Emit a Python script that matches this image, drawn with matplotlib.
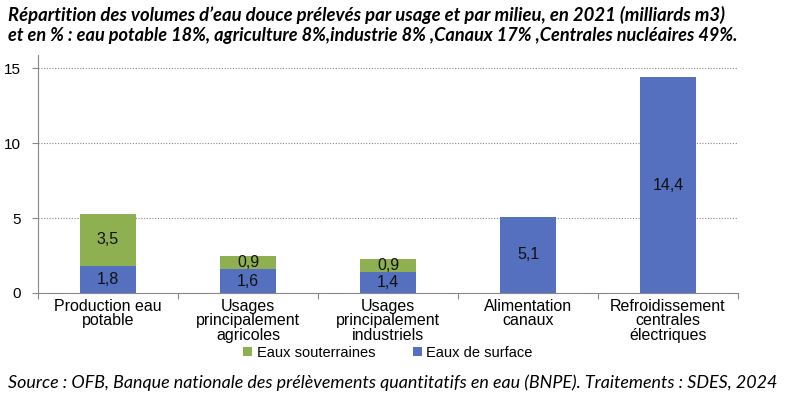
import matplotlib
matplotlib.use("Agg")
import matplotlib.pyplot as plt
import numpy as np
from matplotlib.ticker import FixedLocator, NullFormatter

categories = ["Production eau\npotable", "Usages\nprincipalement\nagricoles",
              "Usages\nprincipalement\nindustriels", "Alimentation\ncanaux",
              "Refroidissement\ncentrales\nélectriques"]
surface = [1.8, 1.6, 1.4, 5.1, 14.4]
souterraines = [3.5, 0.9, 0.9, 0.0, 0.0]
yticks = [0, 5, 10, 15]

green = "#8FB050"
blue = "#5470BF"
W, H = 795, 398

fig = plt.figure(figsize=(7.95, 3.98), dpi=100)
ax = fig.add_axes([38/W, 1-293/H, 700/W, (293-55)/H])

x = np.arange(len(categories))
ax.bar(x, surface, width=0.4, color=blue, label="Eaux de surface", zorder=3)
ax.bar(x, souterraines, width=0.4, bottom=surface, color=green, label="Eaux souterraines", zorder=3)

lab_font = dict(family="Liberation Sans", fontsize=11.5, color="#111111")
for i in range(len(categories)):
    ax.text(x[i], surface[i]/2, f"{surface[i]:.1f}".replace(".", ","), ha="center", va="center",
            zorder=4, **lab_font)
    if souterraines[i] > 0:
        ax.text(x[i], surface[i] + souterraines[i]/2, f"{souterraines[i]:.1f}".replace(".", ","),
                ha="center", va="center", zorder=4, **lab_font)

ax.set_xlim(-0.5, len(categories)-0.5)
ax.set_ylim(0, 15.9)
ax.set_yticks(yticks)
ax.set_yticklabels([str(v) for v in yticks], family="Liberation Sans", fontsize=11)
ax.yaxis.grid(True, linestyle=(0, (1, 1.5)), color="#888888", linewidth=0.8, zorder=0)

ax.xaxis.set_major_locator(FixedLocator(np.arange(-0.5, len(categories), 1.0)))
ax.xaxis.set_major_formatter(NullFormatter())
ax.xaxis.set_minor_locator(FixedLocator(x))
ax.set_xticklabels(categories, minor=True, family="Liberation Sans", fontsize=11.5, linespacing=0.98)
ax.tick_params(axis="x", which="minor", length=0, pad=4)
ax.tick_params(axis="x", which="major", length=4, color="#888888")
ax.tick_params(axis="y", length=4, color="#888888", pad=8)

for s in ["top", "right"]:
    ax.spines[s].set_visible(False)
for s in ["left", "bottom"]:
    ax.spines[s].set_color("#888888")

handles, labels = ax.get_legend_handles_labels()
leg = fig.legend(handles[::-1], labels[::-1], loc="center", bbox_to_anchor=(388/W, 1-353/H),
                 ncol=2, frameon=False, prop={"family": "Liberation Sans", "size": 10.5},
                 handlelength=0.6, handleheight=0.6, columnspacing=2.6, handletextpad=0.3)

def fit_text(x0, yc, s, right, **kw):
    t = fig.text(x0/W, 1-yc/H, s, va="center", ha="left", **kw)
    r = fig.canvas.get_renderer()
    bb = t.get_window_extent(renderer=r)
    t.set_fontsize(t.get_fontsize() * (right - x0) / bb.width)
    return t

fit_text(8, 15, "Répartition des volumes d’eau douce prélevés par usage et par milieu, en 2021 (milliards m3)",
         727, fontsize=12, fontweight="bold", fontstyle="italic", family="Lato")
fit_text(8, 35, "et en % : eau potable 18%, agriculture 8%,industrie 8% ,Canaux 17% ,Centrales nucléaires 49%.",
         737, fontsize=12, fontweight="bold", fontstyle="italic", family="Lato")
fit_text(8, 383, "Source : OFB, Banque nationale des prélèvements quantitatifs en eau (BNPE). Traitements : SDES, 2024",
         775, fontsize=12, fontstyle="italic", family="Lato")

fig.savefig("out.png", dpi=100)
